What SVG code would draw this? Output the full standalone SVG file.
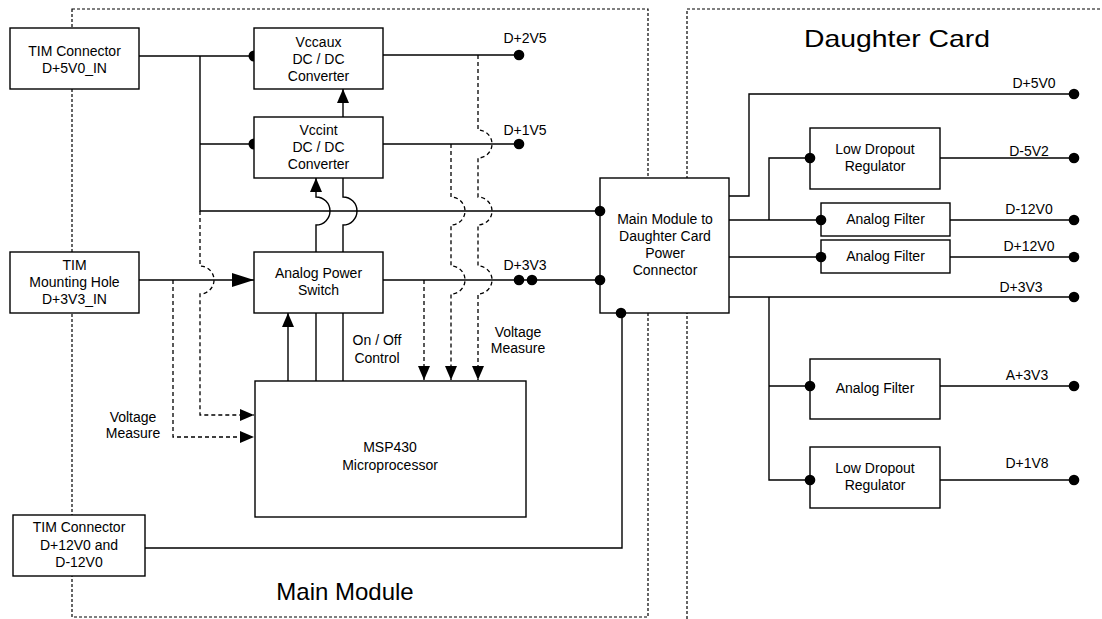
<svg xmlns="http://www.w3.org/2000/svg" width="1102" height="619" viewBox="0 0 1102 619">
<style>
.bx{fill:#fff;stroke:#000;stroke-width:1.4}
.ln{fill:none;stroke:#000;stroke-width:1.4}
.dl{fill:none;stroke:#000;stroke-width:1.3;stroke-dasharray:4 3}
.bd{fill:none;stroke:#000;stroke-width:1.2;stroke-dasharray:3 2}
.dot{fill:#000}
text{font-family:"Liberation Sans",Arial,sans-serif;font-size:14px;fill:#000;text-anchor:middle}
.title{font-size:24px}
</style>
<defs>
<marker id="arr" markerWidth="14" markerHeight="12" refX="14" refY="6" orient="auto" markerUnits="userSpaceOnUse"><path d="M0,0 L14,6 L0,12 z" fill="#000"/></marker>
<marker id="arrBig" markerWidth="22" markerHeight="14" refX="22" refY="7" orient="auto" markerUnits="userSpaceOnUse"><path d="M0,0 L22,7 L0,14 z" fill="#000"/></marker>
</defs>

<g id="borders">
<rect class="bd" x="72" y="9" width="576" height="608"/>
<path class="bd" d="M687,619 V9 H1102"/>
<text class="title" x="345" y="600">Main Module</text>
<text class="title" x="897" y="47" textLength="186" lengthAdjust="spacingAndGlyphs">Daughter Card</text>
</g>

<g id="connectors">
<path class="ln" d="M139,56 H254"/>
<path class="ln" d="M200,56 V211 H600"/>
<path class="ln" d="M200,144 H254"/>
<circle class="dot" cx="254" cy="56" r="5.5"/>
<circle class="dot" cx="254" cy="144" r="5.5"/>
<path class="ln" d="M343,117 V89" marker-end="url(#arr)"/>
<path class="ln" d="M383,55 H519"/>
<path class="ln" d="M383,144 H519"/>
<path class="ln" d="M139,280 H254" marker-end="url(#arrBig)"/>
<path class="ln" d="M383,280 H600"/>
<path class="ln" d="M288,381 V313" marker-end="url(#arr)"/>
<path class="ln" d="M316,381 V313"/>
<path class="ln" d="M343,381 V313"/>
<path class="ln" d="M316,252 V225 A14,14 0 0 0 316,197 V178" marker-end="url(#arr)"/>
<path class="ln" d="M343,252 V225 A14,14 0 0 0 343,197 V178"/>
<path class="ln" d="M145,548 H622 V313"/>
<path class="dl" d="M173,280 V437 H254" marker-end="url(#arr)"/>
<path class="dl" d="M200,211 V266 A14,14 0 0 1 200,294 V415 H254" marker-end="url(#arr)"/>
<path class="dl" d="M424,280 V380" marker-end="url(#arr)"/>
<path class="dl" d="M451,144 V197 A14,14 0 0 1 451,225 V266 A14,14 0 0 1 451,294 V380" marker-end="url(#arr)"/>
<path class="dl" d="M478,55 V130 A14,14 0 0 1 478,158 V197 A14,14 0 0 1 478,225 V266 A14,14 0 0 1 478,294 V380" marker-end="url(#arr)"/>
<path class="ln" d="M729,196 H749 V94 H1074"/>
<path class="ln" d="M729,220 H821"/>
<path class="ln" d="M769,220 V158 H810"/>
<path class="ln" d="M729,257 H821"/>
<path class="ln" d="M729,297 H1074"/>
<path class="ln" d="M769,297 V480 H810"/>
<path class="ln" d="M769,386 H810"/>
<path class="ln" d="M940,158 H1074"/>
<path class="ln" d="M950,220 H1074"/>
<path class="ln" d="M950,257 H1074"/>
<path class="ln" d="M940,386 H1074"/>
<path class="ln" d="M940,480 H1074"/>
</g>

<g id="tim5v">
<rect class="bx" x="10" y="28" width="129" height="61"/>
<text x="74.5" y="56">TIM Connector</text>
<text x="74.5" y="73">D+5V0_IN</text>
</g>
<g id="vccaux">
<rect class="bx" x="254" y="28" width="129" height="61"/>
<text x="318.5" y="47">Vccaux</text>
<text x="318.5" y="64">DC / DC</text>
<text x="318.5" y="81">Converter</text>
</g>
<g id="vccint">
<rect class="bx" x="254" y="117" width="129" height="61"/>
<text x="318.5" y="135">Vccint</text>
<text x="318.5" y="152">DC / DC</text>
<text x="318.5" y="169">Converter</text>
</g>
<g id="timhole">
<rect class="bx" x="10" y="252" width="129" height="61"/>
<text x="74.5" y="270">TIM</text>
<text x="74.5" y="287">Mounting Hole</text>
<text x="74.5" y="304">D+3V3_IN</text>
</g>
<g id="aps">
<rect class="bx" x="254" y="252" width="129" height="61"/>
<text x="318.5" y="278">Analog Power</text>
<text x="318.5" y="295">Switch</text>
</g>
<g id="msp430">
<rect class="bx" x="255" y="381" width="271" height="136"/>
<text x="390" y="452">MSP430</text>
<text x="390" y="470">Microprocessor</text>
</g>
<g id="tim12v">
<rect class="bx" x="13" y="515" width="132" height="61"/>
<text x="79" y="532">TIM Connector</text>
<text x="79" y="550">D+12V0 and</text>
<text x="79" y="567">D-12V0</text>
</g>
<g id="mainconn">
<rect class="bx" x="600" y="178" width="129" height="135"/>
<text x="665" y="224">Main Module to</text>
<text x="665" y="241">Daughter Card</text>
<text x="665" y="258">Power</text>
<text x="665" y="275">Connector</text>
</g>
<g id="ldo1">
<rect class="bx" x="810" y="128" width="130" height="61"/>
<text x="875" y="154">Low Dropout</text>
<text x="875" y="171">Regulator</text>
</g>
<g id="filter1">
<rect class="bx" x="821" y="203" width="129" height="33"/>
<text x="885.5" y="224">Analog Filter</text>
</g>
<g id="filter2">
<rect class="bx" x="821" y="240" width="129" height="33"/>
<text x="885.5" y="261">Analog Filter</text>
</g>
<g id="filter3">
<rect class="bx" x="810" y="359" width="130" height="60"/>
<text x="875" y="393">Analog Filter</text>
</g>
<g id="ldo2">
<rect class="bx" x="810" y="447" width="130" height="61"/>
<text x="875" y="473">Low Dropout</text>
<text x="875" y="490">Regulator</text>
</g>

<g id="terminals">
<circle class="dot" cx="519" cy="55" r="5.3"/>
<circle class="dot" cx="519" cy="144" r="5.3"/>
<circle class="dot" cx="519" cy="280" r="5.3"/>
<circle class="dot" cx="532" cy="280" r="5.3"/>
<circle class="dot" cx="600" cy="211" r="5.3"/>
<circle class="dot" cx="600" cy="280" r="5.3"/>
<circle class="dot" cx="621" cy="313" r="5.3"/>
<circle class="dot" cx="810" cy="158" r="5.3"/>
<circle class="dot" cx="821" cy="220" r="5.3"/>
<circle class="dot" cx="821" cy="257" r="5.3"/>
<circle class="dot" cx="810" cy="386" r="5.3"/>
<circle class="dot" cx="810" cy="480" r="5.3"/>
<circle class="dot" cx="1074" cy="94" r="5.3"/>
<circle class="dot" cx="1074" cy="158" r="5.3"/>
<circle class="dot" cx="1074" cy="220" r="5.3"/>
<circle class="dot" cx="1074" cy="257" r="5.3"/>
<circle class="dot" cx="1074" cy="297" r="5.3"/>
<circle class="dot" cx="1074" cy="386" r="5.3"/>
<circle class="dot" cx="1074" cy="480" r="5.3"/>
</g>

<g id="labels">
<text x="525" y="43">D+2V5</text>
<text x="525" y="135">D+1V5</text>
<text x="525" y="270">D+3V3</text>
<text x="377" y="345">On / Off</text>
<text x="377" y="363">Control</text>
<text x="518" y="337">Voltage</text>
<text x="518" y="353">Measure</text>
<text x="133" y="422">Voltage</text>
<text x="133" y="438">Measure</text>
<text x="1034" y="88">D+5V0</text>
<text x="1029" y="156">D-5V2</text>
<text x="1029" y="214">D-12V0</text>
<text x="1029" y="251">D+12V0</text>
<text x="1021" y="292">D+3V3</text>
<text x="1027" y="380">A+3V3</text>
<text x="1027" y="468">D+1V8</text>
</g>
</svg>
